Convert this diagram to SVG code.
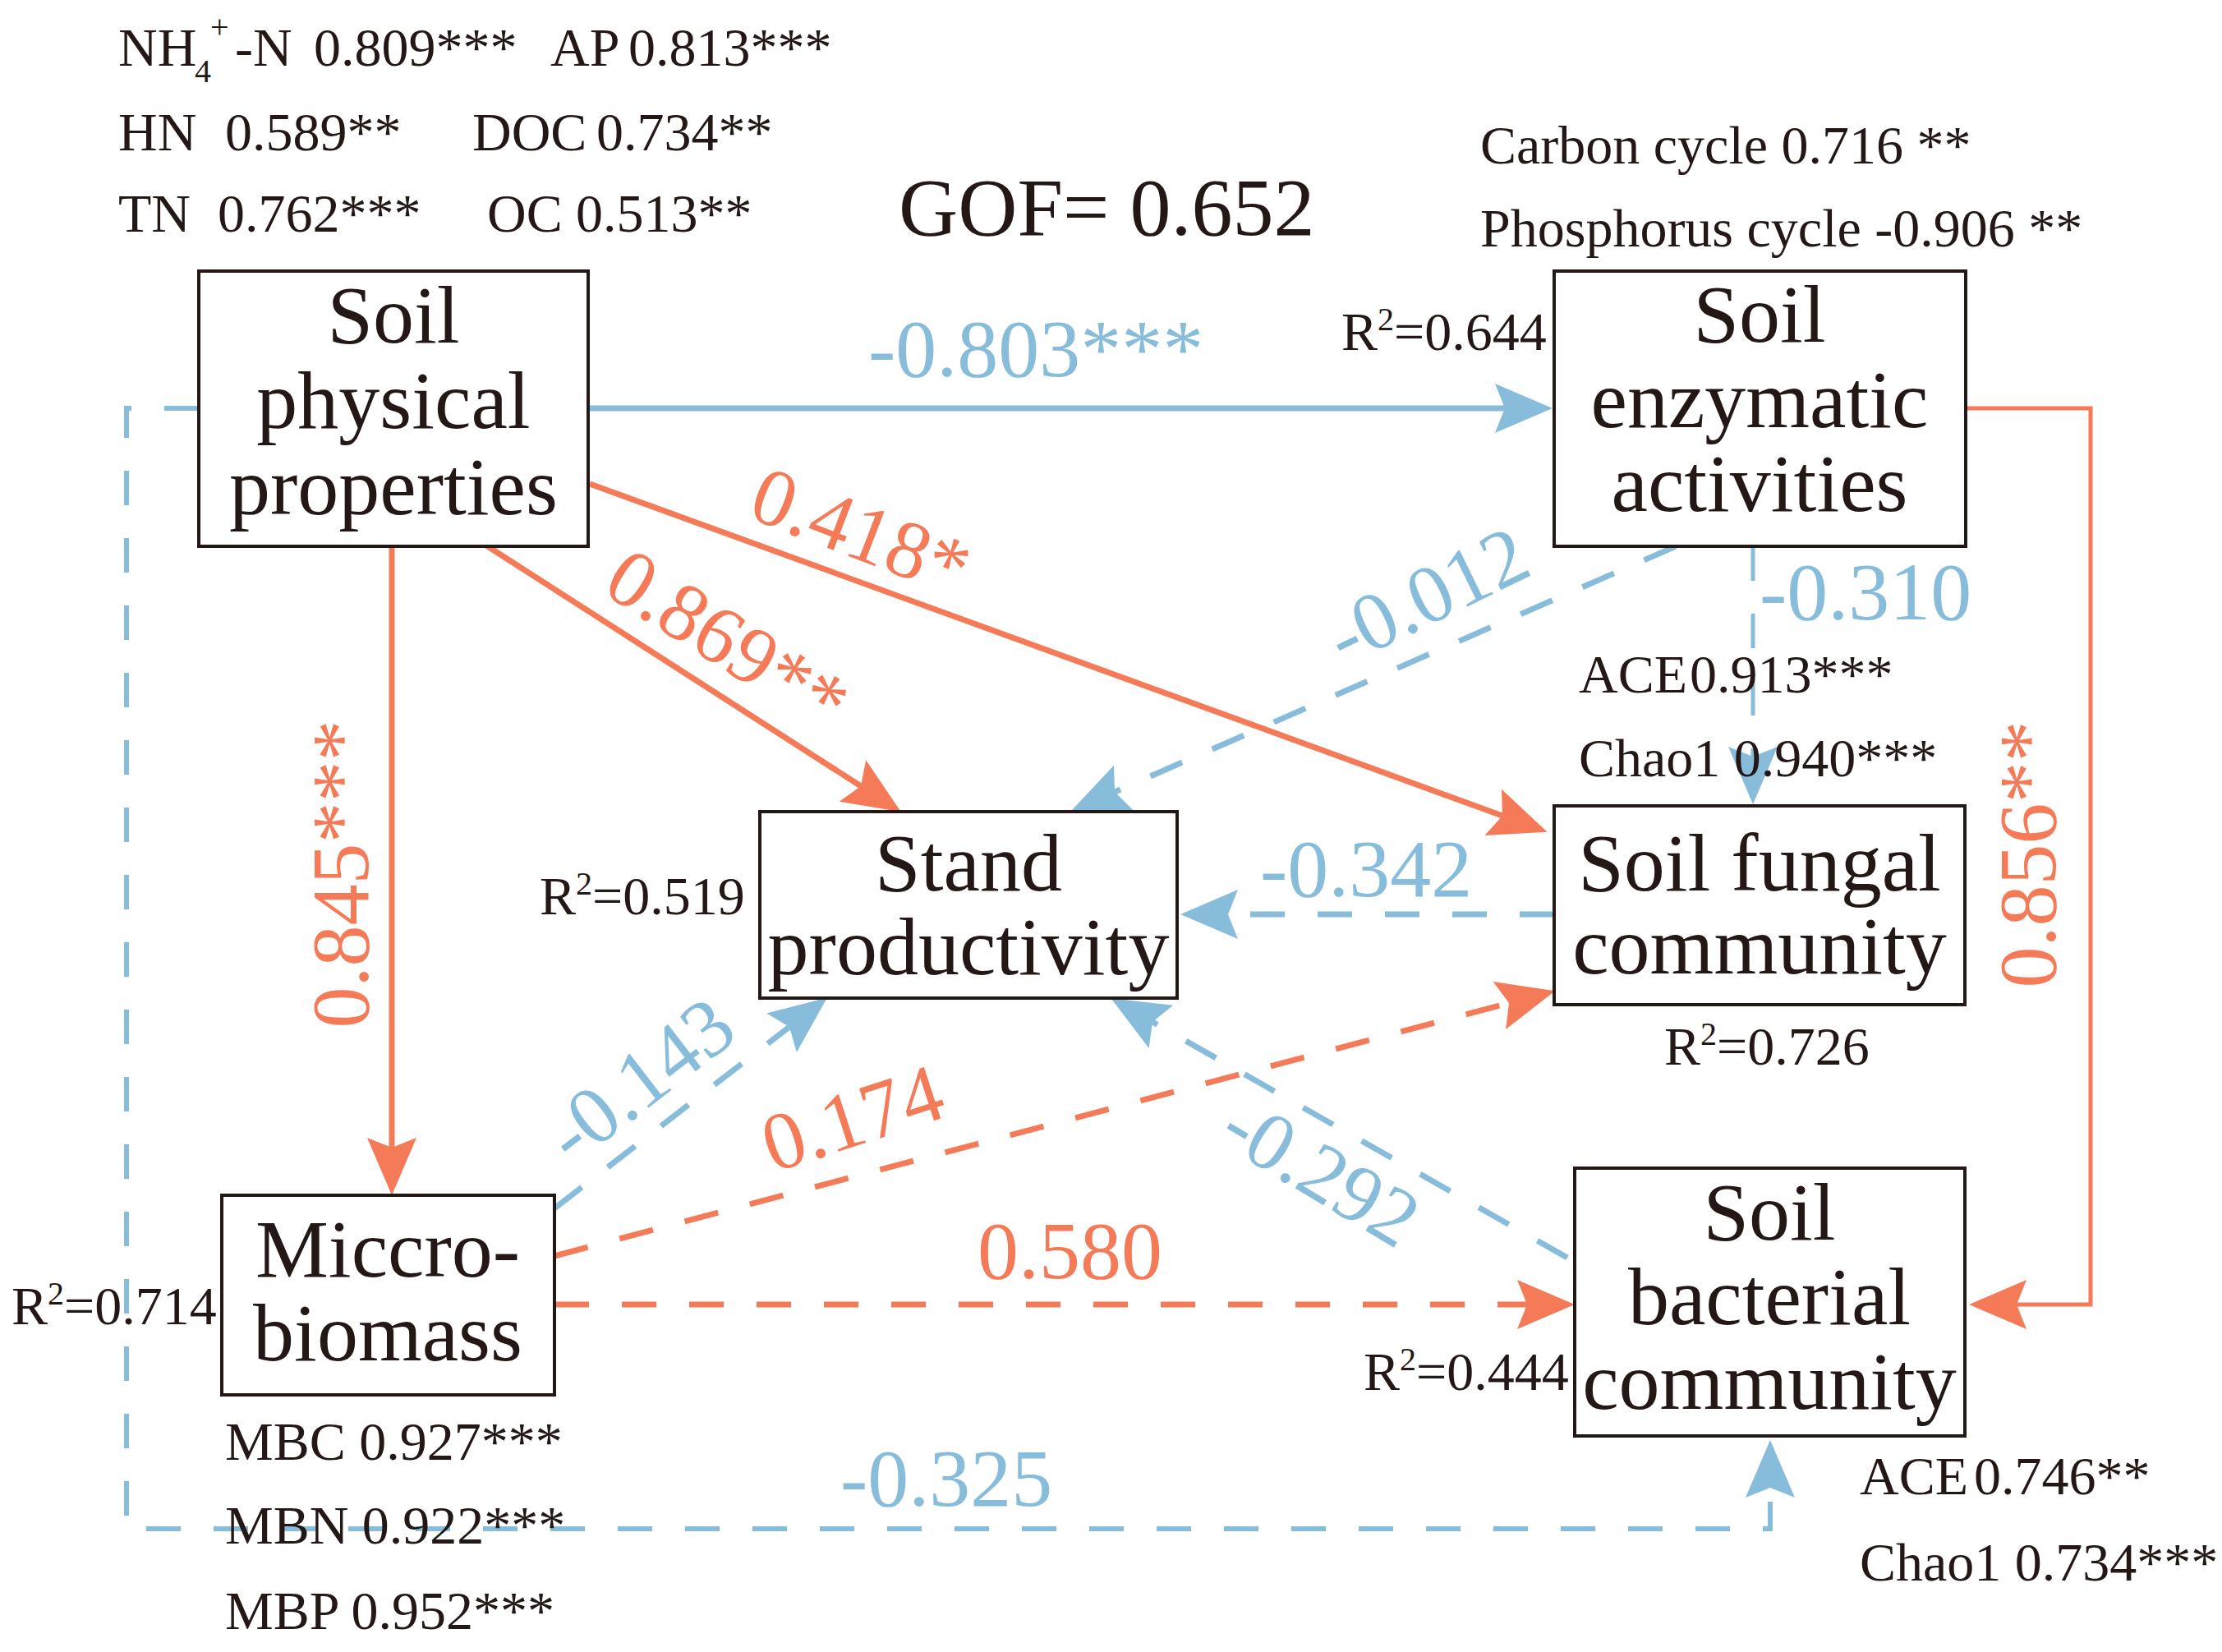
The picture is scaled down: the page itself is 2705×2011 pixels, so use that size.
<svg xmlns="http://www.w3.org/2000/svg" width="2705" height="2011" viewBox="0 0 2705 2011">
<style>
  text { font-family: "Liberation Serif", "Times New Roman", serif; }
  .node rect { fill: #ffffff; stroke: #231815; stroke-width: 4; }
  .node text { font-size: 100px; fill: #231815; text-anchor: middle; }
  .ann { font-size: 66px; fill: #231815; }
  .sub { font-size: 40px; }
  .big { font-size: 100px; fill: #231815; }
  .lb { font-size: 100px; fill: #88BCDB; }
  .lo { font-size: 100px; fill: #F47A58; }
  .c { fill: none; stroke-width: 7; }
  .cb { stroke: #88BCDB; }
  .co { stroke: #F47A58; }
  .dash { stroke-dasharray: 42 40; }
</style>
<defs>
  <marker id="ab" markerUnits="userSpaceOnUse" orient="auto" refX="0" refY="0" markerWidth="10" markerHeight="10" overflow="visible">
    <path d="M58,0 L-12,-30 L0,0 L-12,30 Z" fill="#88BCDB"/>
  </marker>
  <marker id="ao" markerUnits="userSpaceOnUse" orient="auto" refX="0" refY="0" markerWidth="10" markerHeight="10" overflow="visible">
    <path d="M58,0 L-12,-30 L0,0 L-12,30 Z" fill="#F47A58"/>
  </marker>
</defs>
<rect width="2705" height="2011" fill="#ffffff"/>

<g id="connectors">
  <path class="c cb" d="M716,497 H1832" marker-end="url(#ab)"/>
  <path class="c co" d="M592,664 L1048,957" marker-end="url(#ao)"/>
  <path class="c co" d="M718,589 L1829,993" marker-end="url(#ao)"/>
  <path class="c co" d="M477,665 V1397" marker-end="url(#ao)"/>
  <path class="c co" style="stroke-width:5" d="M2393,497 H2545 V1588 H2455" marker-end="url(#ao)"/>
  <path class="c cb dash" d="M1892,1113 H1495" marker-end="url(#ab)"/>
  <path class="c cb dash" d="M675,1471 L961,1250" marker-end="url(#ab)"/>
  <path class="c co dash" d="M675,1529 L1837,1221" marker-end="url(#ao)"/>
  <path class="c co dash" d="M675,1588 H1859" marker-end="url(#ao)"/>
  <path class="c cb dash" d="M1908,1531 L1403,1244" marker-end="url(#ab)"/>
  <path class="c cb dash" d="M2040,665 L1357,964" marker-end="url(#ab)"/>
  <path class="c cb dash" style="stroke-width:6" d="M242,497 H154 V1861 H2155 V1811" marker-end="url(#ab)"/>
  <path class="c cb dash" style="stroke-width:5" d="M2134,665 V921" marker-end="url(#ab)"/>

  <text class="lb" x="1057" y="458">-0.803***</text>
  <text class="lo" transform="translate(1036,678) rotate(21)" text-anchor="middle">0.418*</text>
  <text class="lo" transform="translate(868,807) rotate(32.3)" text-anchor="middle">0.869**</text>
  <text class="lo" transform="translate(448,1064) rotate(-90)" text-anchor="middle">0.845***</text>
  <text class="lo" transform="translate(2502,1040) rotate(-90)" text-anchor="middle">0.856**</text>
  <text class="lb" transform="translate(1752,755) rotate(-26)" text-anchor="middle">-0.012</text>
  <text class="lb" x="2142" y="754">-0.310</text>
  <text class="lb" x="1534" y="1091">-0.342</text>
  <text class="lb" transform="translate(799,1341) rotate(-37.6)" text-anchor="middle">-0.143</text>
  <text class="lo" transform="translate(1048,1393) rotate(-18)" text-anchor="middle">0.174</text>
  <text class="lb" transform="translate(1591,1455) rotate(31)" text-anchor="middle">-0.292</text>
  <text class="lo" x="1190" y="1556">0.580</text>
  <text class="lb" x="1023" y="1833">-0.325</text>
</g>

<g id="node-physical" class="node">
  <rect x="242" y="330" width="474" height="335"/>
  <text x="479" y="417">Soil</text>
  <text x="479" y="521">physical</text>
  <text x="479" y="626">properties</text>
</g>
<g id="node-enzymatic" class="node">
  <rect x="1892" y="330" width="501" height="335"/>
  <text x="2142" y="416">Soil</text>
  <text x="2142" y="520">enzymatic</text>
  <text x="2142" y="622">activities</text>
</g>
<g id="node-stand" class="node">
  <rect x="925" y="988" width="508" height="227"/>
  <text x="1179" y="1084">Stand</text>
  <text x="1179" y="1186">productivity</text>
</g>
<g id="node-fungal" class="node">
  <rect x="1892" y="981" width="500" height="242"/>
  <text x="2142" y="1084">Soil fungal</text>
  <text x="2142" y="1185">community</text>
</g>
<g id="node-microbiomass" class="node">
  <rect x="270" y="1455" width="405" height="243"/>
  <text x="472" y="1554">Miccro-</text>
  <text x="472" y="1656">biomass</text>
</g>
<g id="node-bacterial" class="node">
  <rect x="1917" y="1422" width="475" height="326"/>
  <text x="2154" y="1509">Soil</text>
  <text x="2154" y="1612">bacterial</text>
  <text x="2154" y="1715">community</text>
</g>

<g id="annotations">
  <text class="big" x="1094" y="286">GOF= 0.652</text>
  <text class="ann" y="80"><tspan x="144">NH</tspan><tspan class="sub" x="237" y="100">4</tspan><tspan class="sub" x="256" y="46">+</tspan><tspan x="286" y="80">-N</tspan><tspan x="382">0.809***</tspan><tspan x="670">AP</tspan><tspan x="765">0.813***</tspan></text>
  <text class="ann" y="183"><tspan x="144">HN</tspan><tspan x="274">0.589**</tspan><tspan x="575">DOC</tspan><tspan x="726">0.734**</tspan></text>
  <text class="ann" y="282"><tspan x="144">TN</tspan><tspan x="265">0.762***</tspan><tspan x="593">OC</tspan><tspan x="701">0.513**</tspan></text>
  <text class="ann" x="1802" y="199">Carbon cycle 0.716 **</text>
  <text class="ann" x="1802" y="300">Phosphorus cycle -0.906 **</text>
  <text class="ann" x="1633" y="426">R<tspan class="sub" dy="-24">2</tspan><tspan dy="24">=0.644</tspan></text>
  <text class="ann" x="657" y="1113">R<tspan class="sub" dy="-24">2</tspan><tspan dy="24">=0.519</tspan></text>
  <text class="ann" x="14" y="1612">R<tspan class="sub" dy="-24">2</tspan><tspan dy="24">=0.714</tspan></text>
  <text class="ann" x="2026" y="1296">R<tspan class="sub" dy="-24">2</tspan><tspan dy="24">=0.726</tspan></text>
  <text class="ann" x="1660" y="1692">R<tspan class="sub" dy="-24">2</tspan><tspan dy="24">=0.444</tspan></text>
  <text class="ann" y="843"><tspan x="1922">ACE</tspan><tspan x="2057">0.913***</tspan></text>
  <text class="ann" x="1922" y="945">Chao1 0.940***</text>
  <text class="ann" x="274" y="1777">MBC 0.927***</text>
  <text class="ann" x="274" y="1879">MBN 0.922***</text>
  <text class="ann" x="274" y="1983">MBP 0.952***</text>
  <text class="ann" y="1819"><tspan x="2264">ACE</tspan><tspan x="2403">0.746**</tspan></text>
  <text class="ann" x="2264" y="1924">Chao1 0.734***</text>
</g>
</svg>
